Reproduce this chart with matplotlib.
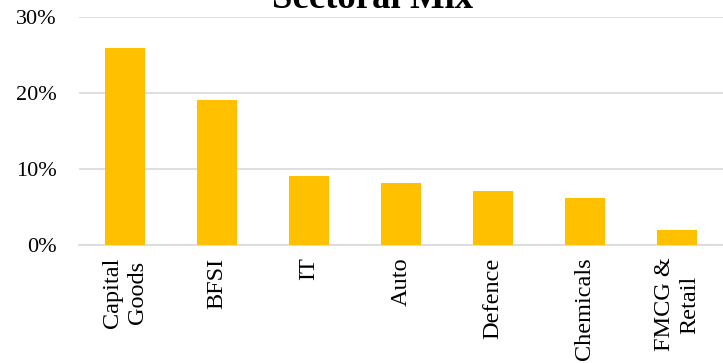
import matplotlib

matplotlib.use("Agg")
import matplotlib.pyplot as plt
from matplotlib.ticker import FuncFormatter

# chart data
sectors = ["Capital\nGoods", "BFSI", "IT", "Auto", "Defence", "Chemicals", "FMCG &\nRetail"]
weights = [26.0, 19.1, 9.1, 8.2, 7.1, 6.2, 2.0]
y_ticks = [0, 10, 20, 30]

plt.rcParams["font.family"] = ["Liberation Serif", "DejaVu Serif"]

fig = plt.figure(figsize=(7.23, 3.63), dpi=100)
ax = fig.add_axes([0.109, 0.325, 0.891, 0.627])

x = list(range(len(sectors)))
ax.bar(x, weights, width=0.43, color="#FFC000", zorder=3)

ax.set_xlim(-0.5, len(sectors) - 0.5)
ax.set_ylim(0, 30)
ax.set_yticks(y_ticks)
ax.yaxis.set_major_formatter(FuncFormatter(lambda v, _: f"{v:.0f}%"))
ax.grid(axis="y", color="#D9D9D9", lw=1.2, zorder=0)

ax.set_xticks(x)
ax.set_xticklabels(sectors, rotation=90, ha="center", va="top",
                   multialignment="center", linespacing=1.25)
ax.tick_params(axis="both", length=0, colors="black")
ax.tick_params(axis="x", pad=9, labelsize=17.5)
ax.tick_params(axis="y", pad=16, labelsize=16)

for s in ["top", "right", "left"]:
    ax.spines[s].set_visible(False)
ax.spines["bottom"].set_color("#D9D9D9")
ax.spines["bottom"].set_linewidth(1.2)

fig.text(0.515, 0.978, "Sectoral Mix", ha="center", va="baseline",
         fontsize=26.5, fontweight="bold")

fig.savefig("out.png", dpi=100)
